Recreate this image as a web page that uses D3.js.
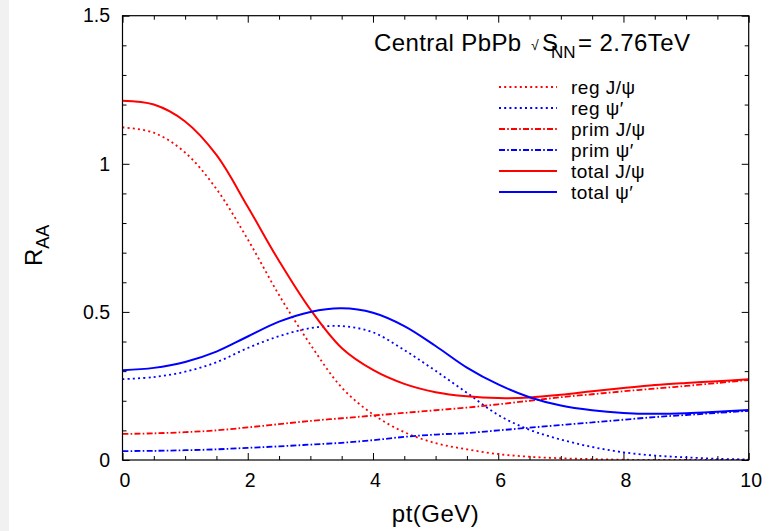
<!DOCTYPE html>
<html>
<head>
<meta charset="utf-8">
<script src="https://cdn.jsdelivr.net/npm/d3@7/dist/d3.min.js"></script>
<style>
  html, body { margin: 0; padding: 0; background: #fff; }
  svg text { font-family: "Liberation Sans", Arial, Helvetica, sans-serif; fill: #000; }
</style>
</head>
<body>
<svg id="chart" width="773" height="531"></svg>
<script>
// pt grid (GeV) shared by every curve
const pt = [0, 0.5, 1, 1.5, 2, 2.5, 3, 3.5, 4, 4.5, 5, 5.5, 6, 6.5, 7, 7.5, 8, 8.5, 9, 9.5, 10];

// R_AA for central PbPb at sqrt(s_NN) = 2.76 TeV
const regJpsi = [1.123, 1.105, 1.038, 0.915, 0.745, 0.557, 0.39, 0.245, 0.154, 0.094, 0.057, 0.036, 0.020, 0.011, 0.006, 0.003, 0.001, 0.0005, 0, 0, 0];
const regPsiP = [0.273, 0.280, 0.298, 0.330, 0.378, 0.418, 0.445, 0.452, 0.431, 0.371, 0.301, 0.227, 0.152, 0.102, 0.069, 0.044, 0.026, 0.015, 0.009, 0.004, 0.002];
const primJpsi = [0.088, 0.090, 0.094, 0.100, 0.110, 0.121, 0.132, 0.141, 0.150, 0.159, 0.168, 0.177, 0.188, 0.200, 0.212, 0.222, 0.232, 0.241, 0.250, 0.260, 0.270];
const primPsiP = [0.030, 0.031, 0.033, 0.036, 0.041, 0.046, 0.052, 0.058, 0.067, 0.078, 0.086, 0.091, 0.100, 0.109, 0.118, 0.127, 0.136, 0.145, 0.152, 0.159, 0.166];
const totalJpsi = [1.213, 1.200, 1.143, 1.030, 0.855, 0.672, 0.508, 0.378, 0.304, 0.257, 0.229, 0.215, 0.209, 0.211, 0.220, 0.232, 0.243, 0.253, 0.260, 0.266, 0.273];
const totalPsiP = [0.303, 0.311, 0.331, 0.366, 0.417, 0.467, 0.500, 0.512, 0.497, 0.452, 0.385, 0.312, 0.255, 0.212, 0.184, 0.168, 0.159, 0.156, 0.158, 0.163, 0.169];

const seriesNames = ["reg J/\u03c8", "reg \u03c8\u2032", "prim J/\u03c8", "prim \u03c8\u2032", "total J/\u03c8", "total \u03c8\u2032"];
const seriesValues = [regJpsi, regPsiP, primJpsi, primPsiP, totalJpsi, totalPsiP];
const seriesColors = ["#ff0000", "#0000ff", "#ff0000", "#0000ff", "#ff0000", "#0000ff"];
const seriesDash = ["2,3.2", "2,3.2", "6,2.2,1.6,2.2", "6,2.2,1.6,2.2", null, null];

const xTicks = [0, 2, 4, 6, 8, 10];
const yTicks = [0, 0.5, 1, 1.5];
const xMinor = d3.range(0, 10.001, 0.5).filter(v => Math.abs(v % 2) > 1e-6);
const yMinor = d3.range(0, 1.5001, 0.1).map(v => +v.toFixed(1)).filter(v => Math.abs((v * 10) % 5) > 1e-6);

const svg = d3.select("#chart");
const W = 773, H = 531;
const plot = { left: 122.5, right: 748.7, top: 15.7, bottom: 460 };

svg.append("rect").attr("x", 0).attr("y", 0).attr("width", W).attr("height", H).attr("fill", "#fff");
svg.append("rect").attr("x", 0).attr("y", 0).attr("width", 9).attr("height", H).attr("fill", "#f1f1f1");

const x = d3.scaleLinear().domain([0, 10]).range([plot.left, plot.right]);
const y = d3.scaleLinear().domain([0, 1.5]).range([plot.bottom, plot.top]);

svg.append("clipPath").attr("id", "clip")
  .append("rect").attr("x", plot.left).attr("y", plot.top)
  .attr("width", plot.right - plot.left).attr("height", plot.bottom - plot.top);

const fontTick = "19.5px";

// inward ticks on all four sides
function styleAxis(g) {
  g.select(".domain").remove();
  g.selectAll(".tick line").attr("stroke", "#000").attr("stroke-width", 1);
}
const fmtY = d => (d === 0 ? "0" : d3.format("")(d));

svg.append("g").attr("transform", `translate(0,${plot.bottom})`)
  .call(d3.axisBottom(x).tickValues(xTicks).tickSize(-7).tickPadding(13).tickFormat(d3.format("d")))
  .call(styleAxis)
  .call(g => g.selectAll("text").attr("font-size", fontTick).attr("font-family", null).attr("dx", "2"));
svg.append("g").attr("transform", `translate(0,${plot.bottom})`)
  .call(d3.axisBottom(x).tickValues(xMinor).tickSize(-4).tickFormat(""))
  .call(styleAxis);
svg.append("g").attr("transform", `translate(0,${plot.top})`)
  .call(d3.axisTop(x).tickValues(xTicks).tickSize(-7).tickFormat(""))
  .call(styleAxis);
svg.append("g").attr("transform", `translate(0,${plot.top})`)
  .call(d3.axisTop(x).tickValues(xMinor).tickSize(-4).tickFormat(""))
  .call(styleAxis);

svg.append("g").attr("transform", `translate(${plot.left},0)`)
  .call(d3.axisLeft(y).tickValues(yTicks).tickSize(-7).tickPadding(12.5).tickFormat(fmtY))
  .call(styleAxis)
  .call(g => g.selectAll("text").attr("font-size", fontTick).attr("font-family", null));
svg.append("g").attr("transform", `translate(${plot.left},0)`)
  .call(d3.axisLeft(y).tickValues(yMinor).tickSize(-4).tickFormat(""))
  .call(styleAxis);
svg.append("g").attr("transform", `translate(${plot.right},0)`)
  .call(d3.axisRight(y).tickValues(yTicks).tickSize(-7).tickFormat(""))
  .call(styleAxis);
svg.append("g").attr("transform", `translate(${plot.right},0)`)
  .call(d3.axisRight(y).tickValues(yMinor).tickSize(-4).tickFormat(""))
  .call(styleAxis);

// curves
const line = d3.line()
  .x((d, i) => x(pt[i]))
  .y(d => y(d))
  .curve(d3.curveCatmullRom.alpha(0.5));

const curves = svg.append("g").attr("clip-path", "url(#clip)");
seriesValues.forEach((vals, k) => {
  curves.append("path")
    .attr("d", line(vals))
    .attr("fill", "none")
    .attr("stroke", seriesColors[k])
    .attr("stroke-width", k >= 4 ? 2 : 1.8)
    .attr("stroke-dasharray", seriesDash[k]);
});

// frame
svg.append("rect")
  .attr("x", plot.left).attr("y", plot.top)
  .attr("width", plot.right - plot.left).attr("height", plot.bottom - plot.top)
  .attr("fill", "none").attr("stroke", "#000").attr("stroke-width", 1.2);

// legend
const legend = svg.append("g");
seriesNames.forEach((name, k) => {
  const ly = 87 + k * 21;
  legend.append("line")
    .attr("x1", 499).attr("x2", 557).attr("y1", ly).attr("y2", ly)
    .attr("stroke", seriesColors[k])
    .attr("stroke-width", k >= 4 ? 2 : 1.8)
    .attr("stroke-dasharray", seriesDash[k]);
  legend.append("text")
    .attr("x", 571).attr("y", ly + 6.5)
    .attr("font-size", "19px")
    .attr("letter-spacing", "0.5px")
    .text(name);
});

// heading, with the NN subscript tucked under the S
const head = svg.append("text").attr("y", 51).attr("font-size", "24px");
head.append("tspan").attr("x", 374).attr("letter-spacing", "0.4px").text("Central PbPb ");
head.append("tspan").attr("x", 531).attr("y", 50).attr("font-size", "14px").text("\u221a");
head.append("tspan").attr("x", 542).attr("y", 51).text("S");
head.append("tspan").attr("x", 551).attr("y", 58).attr("font-size", "17px").text("NN");
head.append("tspan").attr("x", 578).attr("y", 51).attr("letter-spacing", "0.4px").text("= 2.76TeV");

// axis titles
svg.append("text")
  .attr("x", (plot.left + plot.right) / 2).attr("y", 522)
  .attr("text-anchor", "middle")
  .attr("font-size", "24px")
  .attr("letter-spacing", "0.5px")
  .text("pt(GeV)");

const yt = svg.append("text")
  .attr("transform", "translate(42,266) rotate(-90)")
  .attr("font-size", "24px");
yt.append("tspan").text("R");
yt.append("tspan").attr("dy", 7).attr("font-size", "18px").text("AA");
</script>
</body>
</html>
